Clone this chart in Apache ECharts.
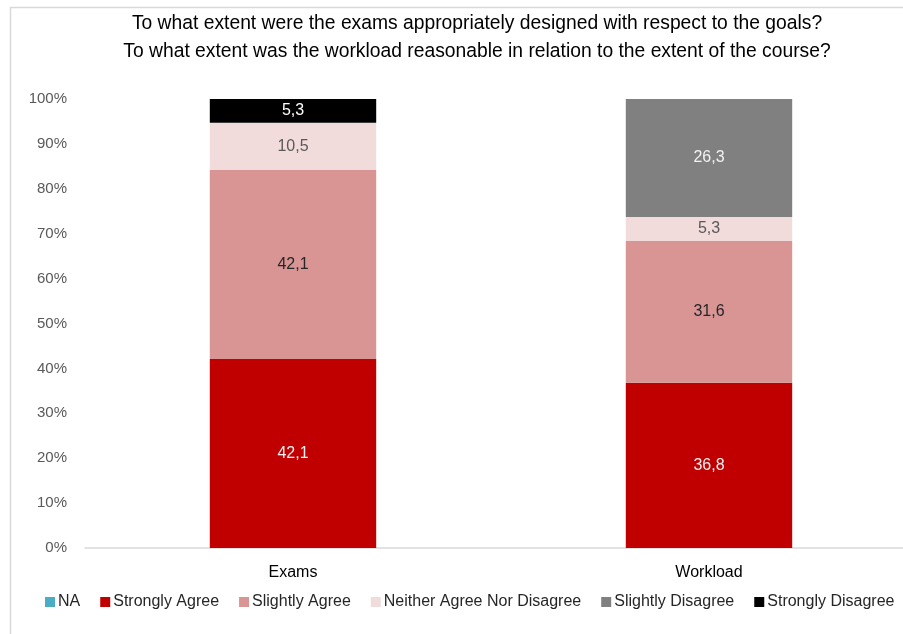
<!DOCTYPE html>
<html>
<head>
<meta charset="utf-8">
<script src="https://cdn.jsdelivr.net/npm/echarts@6/dist/echarts.min.js"></script>
<style>
  html, body { margin: 0; padding: 0; background: #fff; }
  #chart { width: 903px; height: 634px; }
</style>
</head>
<body>
<div id="chart"></div>
<script>
const categories = ['Exams', 'Workload'];
const seriesNames = ['NA', 'Strongly Agree', 'Slightly Agree', 'Neither Agree Nor Disagree', 'Slightly Disagree', 'Strongly Disagree'];
const naValues = [0, 0];
const stronglyAgree = [42.1, 36.8];
const slightlyAgree = [42.1, 31.6];
const neitherValues = [10.5, 5.3];
const slightlyDisagree = [0, 26.3];
const stronglyDisagree = [5.3, 0];
const yTicks = [0, 10, 20, 30, 40, 50, 60, 70, 80, 90, 100];

const colors = ['#4bacc6', '#c00000', '#d99594', '#f2dcdb', '#808080', '#000000'];
const labelColors = ['#ffffff', '#f2f2f2', '#262626', '#595959', '#f2f2f2', '#ffffff'];
const values = [naValues, stronglyAgree, slightlyAgree, neitherValues, slightlyDisagree, stronglyDisagree];
const FONT = 'Liberation Sans';

const chart = echarts.init(document.getElementById('chart'), null, { renderer: 'canvas' });

const series = seriesNames.map((name, i) => ({
  name,
  type: 'bar',
  stack: 'total',
  barCategoryGap: '60%',
  itemStyle: { color: colors[i] },
  label: {
    show: true,
    position: 'inside',
    color: labelColors[i],
    fontFamily: FONT,
    fontSize: 16,
    formatter: p => p.value > 0 ? p.value.toFixed(1).replace('.', ',') : ''
  },
  data: values[i]
}));

chart.setOption({
  animation: false,
  backgroundColor: '#ffffff',
  graphic: [{
    type: 'rect',
    shape: { x: 10.5, y: 7.5, width: 1000, height: 1000 },
    style: { fill: 'none', stroke: '#d9d9d9', lineWidth: 1.5 },
    silent: true
  }],
  title: {
    text: 'To what extent were the exams appropriately designed with respect to the goals?\nTo what extent was the workload reasonable in relation to the extent of the course?',
    left: 472,
    textAlign: 'center',
    top: 5,
    textStyle: { fontFamily: FONT, fontSize: 19.3, fontWeight: 'normal', color: '#000', lineHeight: 28 }
  },
  legend: {
    data: seriesNames,
    top: 589,
    left: 40,
    itemWidth: 10,
    itemHeight: 10,
    itemGap: 20,
    icon: 'rect',
    textStyle: { fontFamily: FONT, fontSize: 16, color: '#262626', padding: [0, 0, 0, -2] }
  },
  grid: { left: 85, width: 832, top: 99, bottom: 86, outerBoundsMode: 'none' },
  xAxis: {
    type: 'category',
    data: categories,
    axisTick: { show: false },
    axisLine: { lineStyle: { color: '#d9d9d9', width: 1.5 } },
    axisLabel: { fontFamily: FONT, fontSize: 16, color: '#000', margin: 17 }
  },
  yAxis: {
    type: 'value',
    min: yTicks[0],
    max: yTicks[yTicks.length - 1],
    interval: 10,
    axisLine: { show: false },
    axisTick: { show: false },
    splitLine: { show: false },
    axisLabel: { fontFamily: FONT, fontSize: 15, color: '#595959', margin: 18, formatter: v => v + '%' }
  },
  series
});
</script>
</body>
</html>
